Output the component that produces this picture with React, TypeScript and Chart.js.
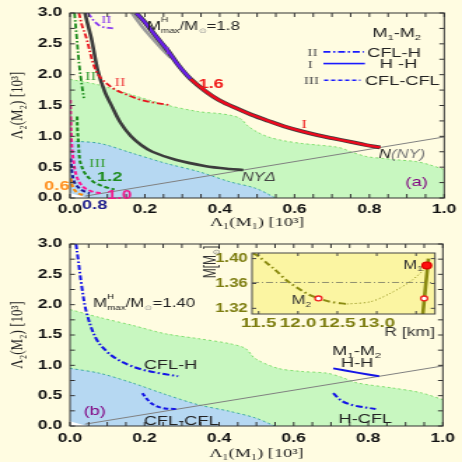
import React, { useEffect, useRef } from 'react';
import { Chart, registerables } from 'chart.js';

Chart.register(...registerables);

const SANS = '"Liberation Sans", Arial, Helvetica, sans-serif';
const SERIF = '"Liberation Serif", "Times New Roman", serif';
const PAGE_BG = '#fffce1';

type Pt = [number, number];

// ---------- axis ticks ----------
const mainXTicks = [0, 0.2, 0.4, 0.6, 0.8, 1.0];
const mainXLabels = ['0.0', '0.2', '0.4', '0.6', '0.8', '1.0'];
const mainYTicks = [0, 0.5, 1.0, 1.5, 2.0, 2.5, 3.0];
const mainYLabels = ['0.0', '0.5', '1.0', '1.5', '2.0', '2.5', '3.0'];
const insetXTicks = [11.5, 12.0, 12.5, 13.0];
const insetXLabels = ['11.5', '12.0', '12.5', '13.0'];
const insetYTicks = [1.32, 1.36, 1.4];
const insetYLabels = ['1.32', '1.36', '1.40'];

// ---------- panel (a) ----------
const aGreenRegion: Pt[] = [[0, 1.925], [0.079, 1.83], [0.167, 1.67], [0.256, 1.51], [0.344, 1.40], [0.397, 1.37], [0.43, 1.34], [0.455, 1.29], [0.475, 1.17], [0.50, 1.07], [0.53, 0.99], [0.57, 0.93], [0.617, 0.886], [0.66, 0.86], [0.706, 0.832], [0.73, 0.80], [0.75, 0.75], [0.794, 0.67], [0.84, 0.64], [0.88, 0.616], [0.926, 0.59], [0.96, 0.54], [1.0, 0.46]];
const aBlueRegion: Pt[] = [[0, 0.924], [0.079, 0.886], [0.167, 0.725], [0.256, 0.562], [0.344, 0.427], [0.426, 0.265], [0.496, 0.157], [0.549, 0]];
const cornerGap: Pt[] = [[0, 0.08], [0.048, 0]];
const equalLine: Pt[] = [[0.04, 0.03], [1.0, 0.99]];
const nyDeltaCurve: Pt[] = [[0.04, 3.0], [0.048, 2.8], [0.057, 2.59], [0.075, 2.05], [0.093, 1.72], [0.11, 1.51], [0.135, 1.22], [0.163, 1.0], [0.19, 0.86], [0.22, 0.75], [0.282, 0.62], [0.36, 0.52], [0.426, 0.47], [0.463, 0.455]];
const hhShadow: Pt[] = [[0.165, 3.0], [0.19, 2.8], [0.215, 2.62], [0.245, 2.42], [0.27, 2.27]];
const hhUpper: Pt[] = [[0.177, 3.0], [0.2, 2.85], [0.23, 2.62], [0.26, 2.4], [0.29, 2.15], [0.322, 1.93]];
const hhLower: Pt[] = [[0.322, 1.93], [0.36, 1.74], [0.40, 1.58], [0.45, 1.44], [0.485, 1.35], [0.53, 1.25], [0.573, 1.16], [0.62, 1.08], [0.661, 1.02], [0.70, 0.97], [0.75, 0.91], [0.79, 0.86], [0.829, 0.82]];
const redCflH: Pt[] = [[0.024, 3.0], [0.032, 2.8], [0.044, 2.59], [0.062, 2.18], [0.079, 1.97], [0.115, 1.78], [0.15, 1.68], [0.185, 1.6], [0.229, 1.54], [0.265, 1.51]];
const greenCflH: Pt[] = [[0.012, 3.0], [0.018, 2.6], [0.024, 2.2], [0.03, 1.9], [0.037, 1.62]];
const purpleCflH: Pt[] = [[0.048, 3.0], [0.066, 2.86], [0.084, 2.78], [0.115, 2.75]];
const greenCflCfl: Pt[] = [[0.019, 1.32], [0.02, 1.1], [0.022, 0.94], [0.026, 0.62], [0.032, 0.5], [0.04, 0.4], [0.062, 0.265], [0.093, 0.18], [0.119, 0.14]];
const pinkCflCfl: Pt[] = [[0.001, 1.59], [0.002, 1.3], [0.004, 0.94], [0.009, 0.62], [0.018, 0.345], [0.035, 0.18], [0.062, 0.10], [0.088, 0.075]];
const navyCflCfl: Pt[] = [[0.002, 0.64], [0.006, 0.40], [0.013, 0.24], [0.031, 0.13], [0.053, 0.076]];
const orangeCflCfl: Pt[] = [[0.002, 0.32], [0.009, 0.157], [0.022, 0.076], [0.035, 0.05]];

// ---------- panel (b) ----------
const bGreenRegion: Pt[] = [[0, 1.92], [0.079, 1.79], [0.167, 1.66], [0.256, 1.52], [0.344, 1.44], [0.426, 1.36], [0.47, 1.28], [0.497, 1.11], [0.558, 0.95], [0.62, 0.90], [0.69, 0.87], [0.73, 0.80], [0.77, 0.71], [0.867, 0.625], [0.94, 0.55], [1.0, 0.435]];
const bBlueRegion: Pt[] = [[0, 0.95], [0.079, 0.87], [0.167, 0.71], [0.256, 0.52], [0.344, 0.35], [0.426, 0.245], [0.496, 0.135], [0.549, 0]];
const bCflH: Pt[] = [[0.016, 3.0], [0.022, 2.74], [0.031, 2.32], [0.044, 1.88], [0.07, 1.44], [0.1, 1.22], [0.124, 1.11], [0.16, 1.0], [0.194, 0.93], [0.24, 0.87], [0.29, 0.82]];
const bCflCfl: Pt[] = [[0.194, 0.54], [0.21, 0.42], [0.23, 0.33], [0.255, 0.29], [0.29, 0.28]];
const bHH: Pt[] = [[0.706, 0.95], [0.77, 0.88], [0.829, 0.82]];
const bHCfl: Pt[] = [[0.706, 0.54], [0.73, 0.41], [0.761, 0.34], [0.82, 0.28]];

// ---------- inset (M vs R) ----------
const insetRefMass: Pt[] = [[11.416, 1.3616], [13.74, 1.3616]];
const insetStableBranch: Pt[] = [[11.43, 1.408], [11.48, 1.4053], [11.69, 1.384], [11.88, 1.3626], [12.11, 1.344], [12.26, 1.336], [12.41, 1.3306], [12.62, 1.3269]];
const insetUnstableBranch: Pt[] = [[12.62, 1.3269], [12.92, 1.3306], [13.17, 1.344], [13.42, 1.3626], [13.57, 1.3786], [13.64, 1.389]];
const insetHadronic: Pt[] = [[13.586, 1.3109], [13.62, 1.355], [13.657, 1.40]];
const insetM1: Pt[] = [[13.636, 1.389]];
const insetOpen: Pt[] = [[12.26, 1.336], [13.603, 1.336]];

// ---------- helpers ----------
const toXY = (pts: Pt[]) => pts.map(([x, y]) => ({ x, y }));

function lineDs(pts: Pt[], color: string, width: number, dash: number[], order: number, tension = 0.35) {
  return {
    data: toXY(pts), borderColor: color, borderWidth: width, borderDash: dash,
    pointRadius: 0, fill: false, tension, order, clip: 0, borderCapStyle: 'butt',
  };
}
function regionDs(pts: Pt[], fillColor: string, edgeColor: string, order: number) {
  return {
    data: toXY(pts), borderColor: edgeColor, backgroundColor: fillColor, borderWidth: 1,
    borderDash: [2, 2], pointRadius: 0, fill: 'origin', tension: 0.3, order, clip: 0,
  };
}
function pointDs(pts: Pt[], fill: string, edge: string, r: number, order: number) {
  return {
    data: toXY(pts), showLine: false, pointRadius: r, pointBackgroundColor: fill,
    pointBorderColor: edge, pointBorderWidth: 1.3, order, clip: false,
  };
}

interface Part { t?: string; sup?: string; sub?: string; size?: number; color?: string; italic?: boolean; bold?: boolean; family?: string; }
interface RichOpts { align?: 'left' | 'center' | 'right'; size: number; family?: string; color?: string; bold?: boolean; italic?: boolean; middle?: boolean; }

function richText(ctx: CanvasRenderingContext2D, x: number, y: number, parts: Part[], o: RichOpts) {
  const fam = o.family || SANS;
  const font = (p: Part, size: number) =>
    `${(p.italic ?? o.italic) ? 'italic ' : ''}${(p.bold ?? o.bold) ? 'bold ' : ''}${size}px ${p.family || fam}`;
  const small = (p: Part) => p.size || Math.round(o.size * 0.62);
  const widths = parts.map((p) => {
    if (p.sup !== undefined || p.sub !== undefined) {
      ctx.font = font(p, small(p));
      return Math.max(ctx.measureText(p.sup || '').width, ctx.measureText(p.sub || '').width);
    }
    ctx.font = font(p, p.size || o.size);
    return ctx.measureText(p.t || '').width;
  });
  const total = widths.reduce((a, b) => a + b, 0);
  let cx = o.align === 'center' ? x - total / 2 : o.align === 'right' ? x - total : x;
  const base = o.middle ? y + o.size * 0.36 : y;
  ctx.save();
  ctx.textAlign = 'left';
  ctx.textBaseline = 'alphabetic';
  parts.forEach((p, i) => {
    ctx.fillStyle = p.color || o.color || '#222';
    if (p.sup !== undefined || p.sub !== undefined) {
      ctx.font = font(p, small(p));
      if (p.sup) ctx.fillText(p.sup, cx, base - o.size * 0.72);
      if (p.sub) ctx.fillText(p.sub, cx, base + o.size * 0.24);
    } else {
      ctx.font = font(p, p.size || o.size);
      ctx.fillText(p.t || '', cx, base);
    }
    cx += widths[i];
  });
  ctx.restore();
}

function drawFrameAndTicks(chart: any, xStep: number, yStep: number, lenV: number, lenH: number, color: string) {
  const { ctx, chartArea: a } = chart;
  const xs = chart.scales.x;
  const ys = chart.scales.y;
  ctx.save();
  ctx.strokeStyle = color;
  ctx.lineWidth = 1;
  ctx.beginPath();
  const nx = Math.round((xs.max - xs.min) / xStep);
  const x0 = Math.ceil(xs.min / xStep - 1e-9) * xStep;
  for (let i = 0; i <= nx + 1; i++) {
    const v = x0 + i * xStep;
    if (v > xs.max + 1e-9) break;
    const px = xs.getPixelForValue(v);
    ctx.moveTo(px, a.bottom); ctx.lineTo(px, a.bottom - lenV);
    ctx.moveTo(px, a.top); ctx.lineTo(px, a.top + lenV);
  }
  const ny = Math.round((ys.max - ys.min) / yStep);
  const y0 = Math.ceil(ys.min / yStep - 1e-9) * yStep;
  for (let i = 0; i <= ny + 1; i++) {
    const v = y0 + i * yStep;
    if (v > ys.max + 1e-9) break;
    const py = ys.getPixelForValue(v);
    ctx.moveTo(a.left, py); ctx.lineTo(a.left + lenH, py);
    ctx.moveTo(a.right, py); ctx.lineTo(a.right - lenH, py);
  }
  ctx.stroke();
  ctx.strokeRect(a.left, a.top, a.right - a.left, a.bottom - a.top);
  ctx.restore();
}

function legendLine(ctx: CanvasRenderingContext2D, x1: number, x2: number, y: number, dash: number[]) {
  ctx.save();
  ctx.strokeStyle = '#1a1aff';
  ctx.lineWidth = 1.6;
  ctx.setLineDash(dash);
  ctx.beginPath();
  ctx.moveTo(x1, y); ctx.lineTo(x2, y);
  ctx.stroke();
  ctx.restore();
}

const DASH = [3.5, 2];
const DASHDOT = [5, 2, 1.5, 2];

function mainConfig(datasets: any[], panel: 'a' | 'b', annotate: (chart: any) => void) {
  const padTop = panel === 'a' ? 13 : 11;
  const xH = panel === 'a' ? 33 : 36;
  const xLabPad = panel === 'a' ? 4 : 5;
  return {
    type: 'line',
    data: { datasets },
    options: {
      responsive: false,
      animation: false,
      devicePixelRatio: 1,
      events: [],
      layout: { padding: { left: 0, right: 10, top: padTop, bottom: 0 } },
      plugins: { legend: { display: false }, tooltip: { enabled: false } },
      scales: {
        x: {
          type: 'linear', min: 0, max: 1,
          afterFit: (s: any) => { s.height = xH; },
          afterBuildTicks: (s: any) => { s.ticks = mainXTicks.map((v) => ({ value: v })); },
          grid: { display: false, drawTicks: false },
          border: { display: false },
          ticks: {
            autoSkip: false, maxRotation: 0, padding: xLabPad, color: '#111',
            font: { family: SANS, size: 12.5, weight: 'bold' },
            callback: (_v: any, i: number) => mainXLabels[i],
          },
          title: {
            display: true, text: 'Λ₁(M₁) [10³]', color: '#222',
            font: { family: SERIF, size: 13 }, padding: { top: 0, bottom: 1 },
          },
        },
        y: {
          type: 'linear', min: 0, max: 3,
          afterFit: (s: any) => { s.width = 50; },
          afterBuildTicks: (s: any) => { s.ticks = mainYTicks.map((v) => ({ value: v })); },
          grid: { display: false, drawTicks: false },
          border: { display: false },
          ticks: {
            autoSkip: false, padding: 5.5, color: '#111',
            font: { family: SANS, size: 12.5, weight: 'bold' },
            callback: (_v: any, i: number) => mainYLabels[i],
          },
          title: {
            display: true, text: 'Λ₂(M₂) [10³]', color: '#222',
            font: { family: SERIF, size: 13 }, padding: { top: 5, bottom: 0 },
          },
        },
      },
    },
    plugins: [{
      id: 'panelDecor',
      afterDatasetsDraw(chart: any) { drawFrameAndTicks(chart, 0.05, 0.25, 4, 3.5, '#333'); },
      afterDraw(chart: any) { annotate(chart); },
    }],
  };
}

function mh(value: string): Part[] {
  return [{ t: 'M' }, { sup: 'H', sub: 'max' }, { t: '/M' }, { sub: '⊙', color: '#999' }, { t: '=' + value }];
}
const m1m2: Part[] = [{ t: 'M' }, { sub: '1' }, { t: '-M' }, { sub: '2' }];

function annotateA(chart: any) {
  const { ctx } = chart;
  const X = (v: number) => chart.scales.x.getPixelForValue(v);
  const Y = (v: number) => chart.scales.y.getPixelForValue(v);
  const txt = (x: number, y: number, t: string, o: RichOpts) => richText(ctx, X(x), Y(y), [{ t }], { middle: true, ...o });

  richText(ctx, X(0.206), Y(2.72), mh('1.8'), { size: 12, color: '#222' });
  txt(0.097, 2.91, 'II', { size: 11, family: SERIF, color: '#8a3cf0', align: 'center' });
  txt(0.26, 2.40, 'I', { size: 11, family: SERIF, color: '#7a30e0', align: 'center' });
  txt(0.055, 1.99, 'II', { size: 12, family: SERIF, color: '#3aa03a', align: 'center' });
  txt(0.134, 1.89, 'II', { size: 12, family: SERIF, color: '#f04a4a', align: 'center' });
  txt(0.377, 1.86, '1.6', { size: 13, bold: true, color: '#f01818', align: 'center' });
  txt(0.626, 1.21, 'I', { size: 12, family: SERIF, color: '#f02020', align: 'center' });
  txt(0.073, 0.576, 'III', { size: 12, family: SERIF, color: '#3aa03a', align: 'center' });
  txt(0.106, 0.345, '1.2', { size: 13, bold: true, color: '#1e8c1e', align: 'center' });
  txt(0.132, 0.065, '1.0', { size: 13, bold: true, color: '#f01b8c', align: 'center' });
  txt(0.066, -0.097, '0.8', { size: 13, bold: true, color: '#1c1c8c', align: 'center' });
  txt(-0.035, 0.21, '0.6', { size: 13, bold: true, color: '#ff9020', align: 'center' });
  richText(ctx, X(0.825), Y(0.72), [{ t: 'N', color: '#222' }, { t: '(NY)', color: '#777' }], { size: 12, italic: true, middle: true });
  txt(0.458, 0.345, 'NYΔ', { size: 12, italic: true, color: '#444' });
  txt(0.926, 0.275, '(a)', { size: 13, color: '#800080', align: 'center' });

  // legend
  richText(ctx, X(0.873), Y(2.69), m1m2, { size: 13, align: 'center', middle: true });
  txt(0.648, 2.37, 'II', { size: 11, family: SERIF, color: '#555', align: 'center' });
  legendLine(ctx, X(0.677), X(0.785), Y(2.37), DASHDOT);
  txt(0.794, 2.37, 'CFL-H', { size: 13 });
  txt(0.642, 2.18, 'I', { size: 11, family: SERIF, color: '#555', align: 'center' });
  legendLine(ctx, X(0.677), X(0.788), Y(2.18), []);
  txt(0.828, 2.18, 'H -H', { size: 13 });
  txt(0.645, 1.91, 'III', { size: 11, family: SERIF, color: '#555', align: 'center' });
  legendLine(ctx, X(0.679), X(0.776), Y(1.91), [3, 2]);
  txt(0.788, 1.91, 'CFL-CFL', { size: 13 });
}

function annotateB(chart: any) {
  const { ctx } = chart;
  const X = (v: number) => chart.scales.x.getPixelForValue(v);
  const Y = (v: number) => chart.scales.y.getPixelForValue(v);
  const txt = (x: number, y: number, t: string, o: RichOpts) => richText(ctx, X(x), Y(y), [{ t }], { middle: true, ...o });
  richText(ctx, X(0.062), Y(1.957), mh('1.40'), { size: 12, color: '#222' });
  txt(0.198, 1.02, 'CFL-H', { size: 13 });
  txt(0.198, 0.098, 'CFL-CFL', { size: 13 });
  txt(0.066, 0.26, '(b)', { size: 13, color: '#800080', align: 'center' });
  richText(ctx, X(0.769), Y(1.25), m1m2, { size: 13, align: 'center', middle: true });
  txt(0.77, 1.05, 'H-H', { size: 13, align: 'center' });
  txt(0.792, 0.12, 'H-CFL', { size: 13, align: 'center' });
}

function configA() {
  const ds = [
    lineDs(hhUpper, '#6a1ee8', 2.4, [], 1),
    lineDs(hhLower, '#ee0a1e', 2.4, [], 1),
    lineDs([...hhUpper, ...hhLower.slice(1)], '#3c3c3c', 3.8, [], 3),
    lineDs(hhShadow, '#9a9a9a', 2.6, [], 4),
    lineDs(nyDeltaCurve, '#3c3c3c', 2.6, [], 3),
    lineDs(redCflH, '#e8141e', 1.8, DASHDOT, 2),
    lineDs(greenCflH, '#1a8a1a', 1.8, DASHDOT, 2),
    lineDs(purpleCflH, '#8a3cf0', 1.8, DASHDOT, 2),
    lineDs(greenCflCfl, '#1a8a1a', 2, DASH, 2),
    lineDs(pinkCflCfl, '#ff1493', 2, DASH, 2),
    lineDs(navyCflCfl, '#1a1a9a', 2, DASH, 2),
    lineDs(orangeCflCfl, '#ff8c00', 2, DASH, 2),
    lineDs(equalLine, '#808080', 1, [], 20, 0),
    regionDs(cornerGap, '#ffffff', 'rgba(0,0,0,0)', 97),
    regionDs(aBlueRegion, '#b6d8f2', '#3aa8a0', 98),
    regionDs(aGreenRegion, '#c8f7c0', '#7ede6c', 99),
  ];
  return mainConfig(ds, 'a', annotateA);
}

function configB() {
  const ds = [
    lineDs(bCflH, '#1414e6', 2, DASHDOT, 2),
    lineDs(bCflCfl, '#1414e6', 2, DASH, 2),
    lineDs(bHH, '#1414e6', 2, [], 2, 0.2),
    lineDs(bHCfl, '#1414e6', 2, DASHDOT, 2),
    lineDs(equalLine, '#808080', 1, [], 20, 0),
    regionDs(cornerGap, '#ffffff', 'rgba(0,0,0,0)', 97),
    regionDs(bBlueRegion, '#b6d8f2', '#3aa8a0', 98),
    regionDs(bGreenRegion, '#c8f7c0', '#7ede6c', 99),
  ];
  return mainConfig(ds, 'b', annotateB);
}

function configInset() {
  const olive = '#8a8a10';
  const ds = [
    pointDs(insetM1, '#ff1010', '#e00000', 3.3, 1),
    pointDs(insetOpen, '#ffffff', '#f02020', 2.4, 1),
    lineDs(insetHadronic, olive, 2.6, [], 2, 0.2),
    lineDs(insetStableBranch, olive, 2, [5, 2.5, 1.5, 2.5], 3, 0.3),
    lineDs(insetUnstableBranch, olive, 1, [1, 2], 3, 0.3),
    lineDs(insetRefMass, '#8f8f70', 1, [5, 2, 1, 2], 4, 0),
  ];
  return {
    type: 'line',
    data: { datasets: ds },
    options: {
      responsive: false,
      animation: false,
      devicePixelRatio: 1,
      events: [],
      layout: { padding: { left: 0, right: 9.3, top: 17, bottom: 0 } },
      plugins: { legend: { display: false }, tooltip: { enabled: false } },
      scales: {
        x: {
          type: 'linear', min: 11.416, max: 13.74,
          afterFit: (s: any) => { s.height = 30; },
          afterBuildTicks: (s: any) => { s.ticks = insetXTicks.map((v) => ({ value: v })); },
          grid: { display: false, drawTicks: false },
          border: { display: false },
          ticks: {
            autoSkip: false, maxRotation: 0, padding: 1.5, color: '#7d7d10',
            font: { family: SANS, size: 13.5, weight: 'bold' },
            callback: (_v: any, i: number) => insetXLabels[i],
          },
          title: {
            display: true, text: 'R [km]', align: 'end', color: '#333',
            font: { family: SANS, size: 12.5 }, padding: { top: 0, bottom: 3.5 },
          },
        },
        y: {
          type: 'linear', min: 1.3109, max: 1.409,
          afterFit: (s: any) => { s.width = 40; },
          afterBuildTicks: (s: any) => { s.ticks = insetYTicks.map((v) => ({ value: v })); },
          grid: { display: false, drawTicks: false },
          border: { display: false },
          ticks: {
            autoSkip: false, padding: 3, color: '#7d7d10',
            font: { family: SANS, size: 12, weight: 'bold' },
            callback: (_v: any, i: number) => insetYLabels[i],
          },
          title: { display: false },
        },
      },
    },
    plugins: [{
      id: 'insetDecor',
      beforeDatasetsDraw(chart: any) {
        const { ctx, chartArea: a } = chart;
        ctx.save();
        ctx.fillStyle = '#fbf5a2';
        ctx.fillRect(a.left, a.top, a.right - a.left, a.bottom - a.top);
        ctx.restore();
      },
      afterDatasetsDraw(chart: any) { drawFrameAndTicks(chart, 0.5, 0.04, 3, 3, '#444'); },
      afterDraw(chart: any) {
        const { ctx, chartArea: a } = chart;
        const X = (v: number) => chart.scales.x.getPixelForValue(v);
        const Y = (v: number) => chart.scales.y.getPixelForValue(v);
        richText(ctx, X(13.46), Y(1.391), [{ t: 'M' }, { sub: '1' }], { size: 12, align: 'center', middle: true, color: '#333' });
        richText(ctx, X(12.04), Y(1.334), [{ t: 'M' }, { sub: '2' }], { size: 12, align: 'center', middle: true, color: '#333' });
        ctx.save();
        ctx.translate(a.left - 30, a.top + 9);
        ctx.rotate(-Math.PI / 2);
        richText(ctx, 0, 0, [{ t: 'M[M' }, { sub: '⊙', color: '#777' }, { t: ']' }], { size: 12, align: 'center', middle: true, color: '#333' });
        ctx.restore();
      },
    }],
  };
}

export default function App() {
  const aRef = useRef<HTMLCanvasElement>(null);
  const bRef = useRef<HTMLCanvasElement>(null);
  const iRef = useRef<HTMLCanvasElement>(null);
  useEffect(() => {
    const charts = [
      new Chart(aRef.current as HTMLCanvasElement, configA() as any),
      new Chart(bRef.current as HTMLCanvasElement, configB() as any),
      new Chart(iRef.current as HTMLCanvasElement, configInset() as any),
    ];
    return () => charts.forEach((c) => c.destroy());
  }, []);
  return (
    <div style={{ position: 'fixed', left: 0, top: 0, width: 462, height: 462, background: PAGE_BG, overflow: 'hidden' }}>
      <canvas ref={aRef} width={330} height={231} style={{ position: 'absolute', left: 0, top: 0, width: '462px', height: '231px' }} />
      <canvas ref={bRef} width={330} height={231} style={{ position: 'absolute', left: 0, top: 231, width: '462px', height: '231px' }} />
      <canvas ref={iRef} width={180} height={108} style={{ position: 'absolute', left: 196, top: 236, width: '252px', height: '108px' }} />
    </div>
  );
}
